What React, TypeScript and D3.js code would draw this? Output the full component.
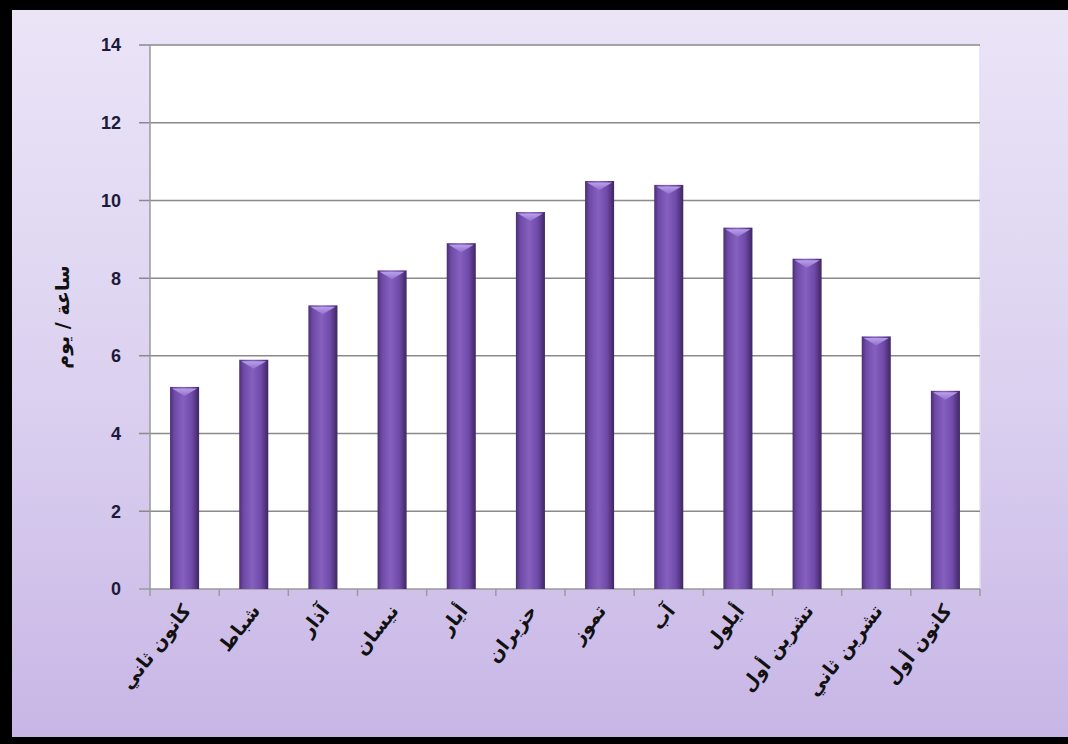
import * as d3 from 'd3';

// monthly sunshine hours (hours / day)
const months = ['كانون ثاني', 'شباط', 'آذار', 'نيسان', 'أيار', 'حزيران', 'تموز', 'آب', 'أيلول', 'تشرين أول', 'تشرين ثاني', 'كانون أول'];
const hours = [5.2, 5.9, 7.3, 8.2, 8.9, 9.7, 10.5, 10.4, 9.3, 8.5, 6.5, 5.1];
const yTicks = [0, 2, 4, 6, 8, 10, 12, 14];
const yTitle = 'ساعة / يوم';

const W = 1068;
const H = 744;
const margin = { left: 150, right: 88, top: 45, bottom: 155 };

export default function App() {
  const x = d3.scaleBand<string>()
    .domain(months)
    .range([margin.left, W - margin.right])
    .paddingInner(0.58)
    .paddingOuter(0.29);
  const y = d3.scaleLinear().domain([0, 14]).range([H - margin.bottom, margin.top]);
  const step = x.step();
  const bw = x.bandwidth();
  const x0 = margin.left, x1 = W - margin.right;

  return (
    <svg width={W} height={H} style={{ position: 'absolute', left: 0, top: 0 }}>
      <defs>
        <linearGradient id="bg" x1="0" y1="0" x2="0" y2="1">
          <stop offset="0%" stopColor="#ebe4f7" />
          <stop offset="50%" stopColor="#dcd2f0" />
          <stop offset="100%" stopColor="#c8b6e6" />
        </linearGradient>
        <linearGradient id="bar" x1="0" y1="0" x2="1" y2="0">
          <stop offset="0%" stopColor="#4b2f74" />
          <stop offset="15%" stopColor="#6e4aa6" />
          <stop offset="45%" stopColor="#8660bf" />
          <stop offset="75%" stopColor="#6f4aa8" />
          <stop offset="100%" stopColor="#3f2662" />
        </linearGradient>
        <linearGradient id="cap" x1="0" y1="0" x2="0" y2="1">
          <stop offset="0%" stopColor="#c0a8f0" />
          <stop offset="100%" stopColor="#9373d0" />
        </linearGradient>
      </defs>

      <rect x={0} y={0} width={W} height={H} fill="#000" />
      <rect x={12} y={10} width={W - 12} height={737 - 10} fill="url(#bg)" />

      {/* plot area */}
      <rect x={x0} y={margin.top} width={x1 - x0} height={y(0) - margin.top} fill="#fff" />
      <line x1={x1} x2={x1} y1={margin.top} y2={y(0)} stroke="#e6def2" strokeWidth={1.5} />

      {yTicks.map(t => (
        <g key={t}>
          <line x1={x0 - 11} x2={x1} y1={y(t)} y2={y(t)} stroke={t === 0 ? '#9a9a9a' : '#8a8a8a'} strokeWidth={1.5} />
          <text x={x0 - 29} y={y(t)} dy="0.36em" textAnchor="end" fontFamily="'Liberation Sans', Arial, sans-serif"
            fontWeight="bold" fontSize={18} fill="#1c1a3a">{t}</text>
        </g>
      ))}
      <line x1={x0} x2={x0} y1={margin.top} y2={y(0)} stroke="#9a9a9a" strokeWidth={1.5} />

      {/* x ticks between categories */}
      {d3.range(months.length + 1).map(i => (
        <line key={i} x1={x0 + i * step} x2={x0 + i * step} y1={y(0)} y2={y(0) + 7} stroke="#9a9a9a" strokeWidth={1.5} />
      ))}

      {months.map((m, i) => {
        const bx = x(m)!;
        const top = y(hours[i]);
        return (
          <g key={m}>
            <rect x={bx} y={top} width={bw} height={y(0) - top} fill="url(#bar)" />
            <path d={`M${bx + 2},${top + 1.5} L${bx + bw - 2},${top + 1.5} L${bx + bw / 2},${top + 9} Z`} fill="url(#cap)" opacity={0.9} />
          </g>
        );
      })}

      {months.map(m => {
        const cx = x(m)! + bw / 2 + 2;
        const cy = y(0) + 18;
        return (
          <text key={m} x={cx} y={cy} dy="0.35em" textAnchor="end" transform={`rotate(-52 ${cx} ${cy})`}
            fontFamily="'DejaVu Sans', sans-serif" fontWeight="bold" fontSize={19} fill="#111">{m}</text>
        );
      })}

      <text x={0} y={0} transform={`translate(69 ${(margin.top + y(0)) / 2}) rotate(-90)`} textAnchor="middle"
        fontFamily="'DejaVu Sans', sans-serif" fontWeight="bold" fontSize={19} fill="#111">{yTitle}</text>
    </svg>
  );
}
